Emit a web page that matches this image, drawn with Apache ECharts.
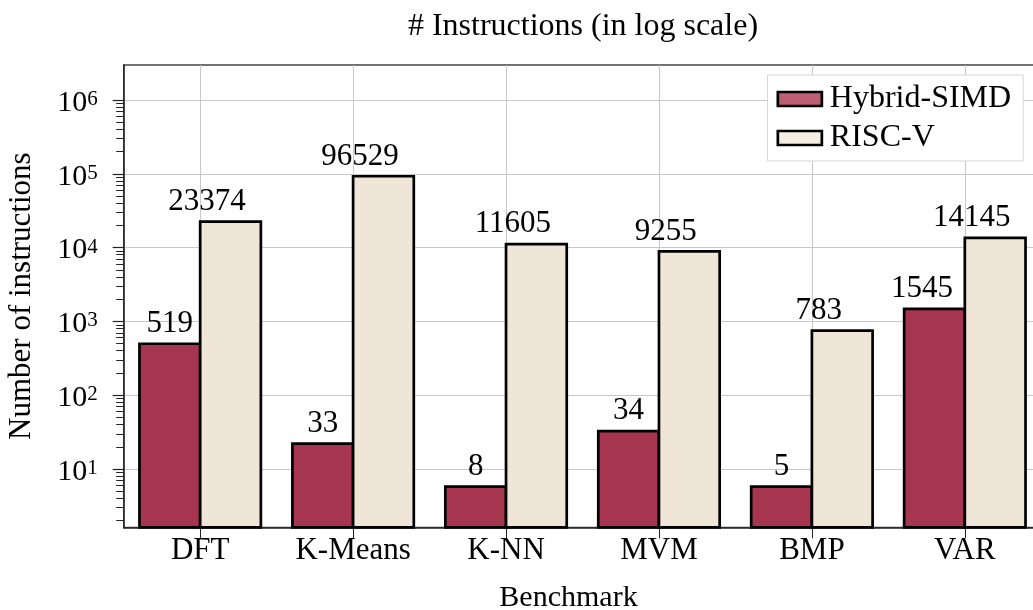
<!DOCTYPE html>
<html>
<head>
<meta charset="utf-8">
<script src="https://cdn.jsdelivr.net/npm/echarts@6/dist/echarts.min.js"></script>
<style>
html,body{margin:0;padding:0;background:#fff;}
#chart{width:1033px;height:610px;}
</style>
</head>
<body>
<div id="chart"></div>
<script>
const categories = ['DFT', 'K-Means', 'K-NN', 'MVM', 'BMP', 'VAR'];
const seriesNames = ['Hybrid-SIMD', 'RISC-V'];
// bar heights as drawn
const hybridValues = [519, 23, 6, 34, 6, 1545];
const riscvValues = [23374, 96529, 11605, 9255, 783, 14145];
// printed value labels
const hybridLabels = ['519', '33', '8', '34', '5', '1545'];
const riscvLabels = ['23374', '96529', '11605', '9255', '783', '14145'];
// y-axis ticks
const majorTicks = [10, 100, 1000, 10000, 100000, 1000000];
const minorMantissas = [2, 3, 4, 5, 6, 7, 8, 9];
const minorDecades = [1, 10, 100, 1000, 10000, 100000];
const minorTicks = [];
minorDecades.forEach(d => minorMantissas.forEach(m => minorTicks.push(m * d)));
const catPositions = categories.map((c, i) => i);

const FONT = '"Liberation Serif", "Times New Roman", serif';
const chart = echarts.init(document.getElementById('chart'), null, {renderer: 'canvas'});

function barSeries(name, values, labels, color, labelShift, wideLabelShift) {
  return {
    name: name,
    type: 'bar',
    xAxisIndex: 0,
    yAxisIndex: 0,
    barWidth: 63.4,
    barGap: '-4.26%',
    data: values.map((v, i) => {
      const item = {value: [catPositions[i], v]};
      if (wideLabelShift && labels[i].length > 3) item.label = {offset: [wideLabelShift, 0]};
      return item;
    }),
    itemStyle: {color: color, borderColor: '#000', borderWidth: 2.7},
    label: {
      show: true,
      position: 'top',
      distance: 3,
      offset: [labelShift, 0],
      fontFamily: FONT,
      fontSize: 31,
      color: '#000',
      formatter: p => labels[p.dataIndex]
    },
    emphasis: {disabled: true},
    animation: false
  };
}

chart.setOption({
  animation: false,
  backgroundColor: '#fff',
  title: {
    text: '# Instructions (in log scale)',
    left: 578,
    textAlign: 'center',
    top: 6,
    textStyle: {fontFamily: FONT, fontSize: 32, fontWeight: 'normal', color: '#000'}
  },
  grid: {
    left: 123.7, right: -8.3, top: 65, bottom: 82.7,
    outerBoundsMode: 'none',
    containLabel: false,
    show: true, borderColor: '#444', borderWidth: 1.3, backgroundColor: 'transparent'
  },
  legend: {
    orient: 'vertical',
    left: 767.5,
    top: 75,
    padding: [8, 12, 7, 9],
    itemGap: 7,
    itemWidth: 44,
    itemHeight: 14,
    itemStyle: {borderColor: '#000', borderWidth: 2.7},
    backgroundColor: '#fff',
    borderColor: '#d6d6d6',
    borderWidth: 1,
    textStyle: {fontFamily: FONT, fontSize: 32, color: '#000', padding: [0, 0, 0, 3]},
    data: [
      {name: seriesNames[0], icon: 'rect', itemStyle: {color: '#bd5f73'}},
      {name: seriesNames[1], icon: 'rect', itemStyle: {color: '#f4ede1'}}
    ]
  },
  xAxis: {
    type: 'value',
    min: -0.5,
    max: 5.5,
    name: 'Benchmark',
    nameLocation: 'middle',
    nameGap: 56,
    nameTextStyle: {fontFamily: FONT, fontSize: 30, color: '#000', padding: [0, 28, 0, 0]},
    axisLine: {show: true, onZero: false, lineStyle: {color: '#222', width: 1.5}},
    axisTick: {show: true, customValues: catPositions, length: 11, lineStyle: {color: '#222', width: 1}},
    axisLabel: {
      customValues: catPositions,
      margin: 8,
      fontFamily: FONT, fontSize: 31, color: '#000',
      formatter: v => categories[Math.round(v)]
    },
    splitLine: {show: true, lineStyle: {color: '#c8c8c8', width: 1}}
  },
  yAxis: [
    {
      type: 'log',
      logBase: 10,
      min: 1.62,
      max: 2.98e6,
      position: 'left',
      name: 'Number of instructions',
      nameLocation: 'middle',
      nameGap: 86,
      nameRotate: 90,
      nameTextStyle: {fontFamily: FONT, fontSize: 31, color: '#000'},
      axisLine: {show: true, onZero: false, lineStyle: {color: '#222', width: 1.5}},
      axisTick: {show: true, customValues: majorTicks, length: 11, lineStyle: {color: '#222', width: 1.2}},
      axisLabel: {
        customValues: majorTicks,
        margin: 26,
        formatter: v => '{b|10}{s|' + Math.round(Math.log10(v)) + '}',
        rich: {
          b: {fontFamily: FONT, fontSize: 30, color: '#000', lineHeight: 34, padding: [6, 0, 0, 0]},
          s: {fontFamily: FONT, fontSize: 21, color: '#000', lineHeight: 20, verticalAlign: 'top', padding: [6, 0, 0, 0]}
        }
      },
      splitLine: {show: true, lineStyle: {color: '#c8c8c8', width: 1}}
    },
    {
      type: 'log',
      logBase: 10,
      min: 1.62,
      max: 2.98e6,
      position: 'left',
      offset: 0,
      axisLine: {show: false, onZero: false},
      axisTick: {show: true, customValues: minorTicks, length: 7.5, lineStyle: {color: '#222', width: 1}},
      axisLabel: {show: false},
      splitLine: {show: false}
    }
  ],
  series: [
    barSeries(seriesNames[0], hybridValues, hybridLabels, '#a6364f', 0, -12.5),
    barSeries(seriesNames[1], riscvValues, riscvLabels, '#efe6d8', -23.5, null)
  ]
});
</script>
</body>
</html>
